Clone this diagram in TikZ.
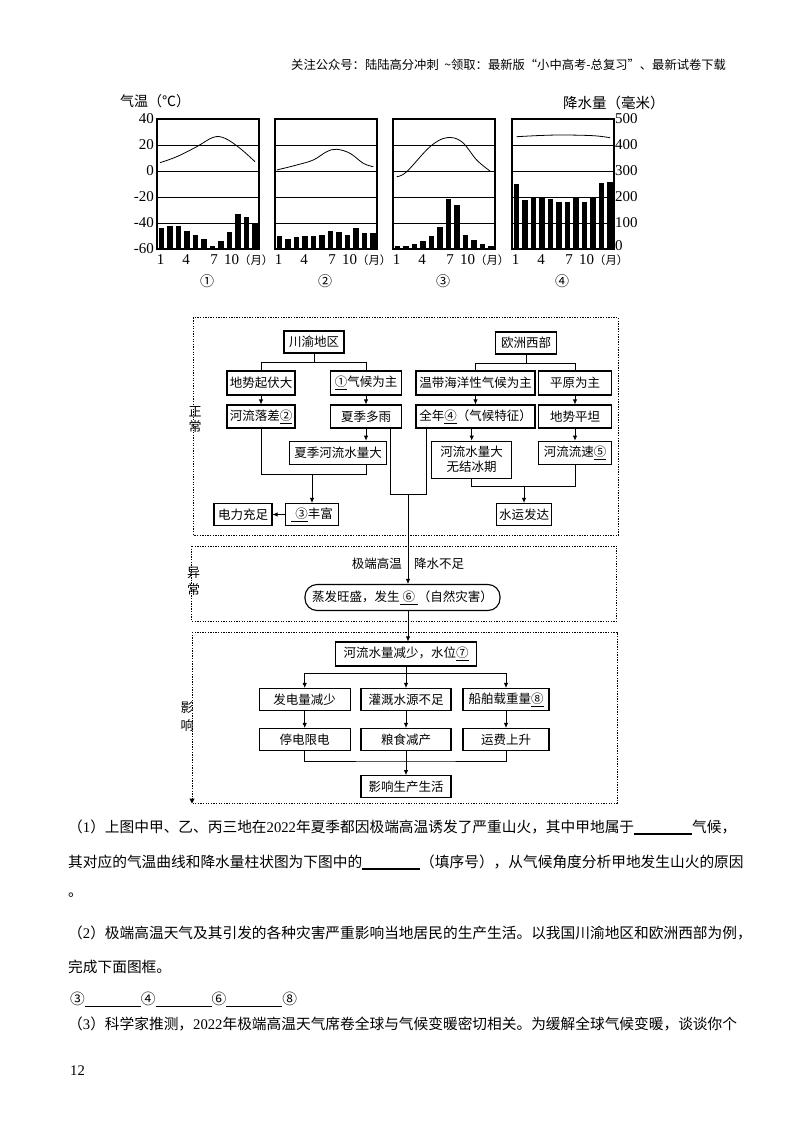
\documentclass[tikz,border=0pt]{standalone}
\usepackage{fontspec}
\setmainfont{Liberation Serif}
\newfontfamily\cjk{Noto Sans CJK SC}
\usetikzlibrary{arrows.meta,calc}
\begin{document}
\begin{tikzpicture}[x=1pt,y=-1pt,
  fbox/.style={draw,line width=1.1pt,inner sep=0pt,align=center,font=\cjk\fontsize{12.5}{15}\selectfont},
  conn/.style={line width=0.8pt},
  arr/.style={line width=0.8pt,-{Latex[length=5pt,width=4.5pt]}},
  dotbox/.style={line width=1pt,dash pattern=on 1.3pt off 1.3pt},
  gridl/.style={line width=0.9pt},
  curve/.style={line width=0.8pt},
  numl/.style={font=\fontsize{15}{17}\selectfont,inner sep=0pt},
  txt/.style={anchor=west,inner sep=0pt,font=\cjk\fontsize{14.7}{17}\selectfont},
  side/.style={align=center,inner sep=0pt,font=\cjk\fontsize{13}{15}\selectfont}]
\useasboundingbox (0,0) rectangle (800,1132);

% header
\node[anchor=west,inner sep=0pt,font=\cjk\fontsize{12.3}{14}\selectfont] (hdr) at (291,65)
  {关注公众号：陆陆高分冲刺\ \ \string~领取：最新版“小中高考-总复习”、最新试卷下载};

% ---------- climate charts ----------
\foreach \L/\bars/\cn in {
  157/{228.3,226,226,231,235,238.7,246,241.3,232,214,216.7,222.7}/①,
  275/{236,238.7,237.3,236,236,235,230.7,232,234.7,228.3,233.3,233.3}/②,
  393/{246,246,244,241.3,236,227.3,199,205.3,234.7,240,244,246}/③,
  512/{184.3,200.3,198.3,198.3,199,201.7,201.7,198.3,201.7,198.3,183.3,182}/④}{
  \foreach \g in {145,171,197,223} \draw[gridl] (\L,\g) -- (\L+102,\g);
  \foreach \t [count=\i] in \bars
    \fill (\L+8.5*\i-4.25-2.75,\t) rectangle (\L+8.5*\i-4.25+2.75,249);
  \draw[line width=1.1pt] (\L,119) rectangle (\L+102,249);
  \node[numl] at (\L+3.5,260) {1};
  \node[numl] at (\L+29,260) {4};
  \node[numl] at (\L+57,260) {7};
  \node[numl,anchor=west] at (\L+67,260) {10{\cjk\fontsize{11.3}{13}\selectfont（月）}};
  \node[font=\cjk\fontsize{14}{16}\selectfont,inner sep=0pt] at (\L+50,281) {\cn};
}
% temperature curves
\draw[curve] plot[smooth,tension=0.6] coordinates {(160,162.7) (176.7,156.7) (196.7,146.7) (213.3,137.3) (225,138.3) (240,148.3) (255,161.7)};
\draw[curve] plot[smooth,tension=0.6] coordinates {(276.7,170) (296.7,165) (313.3,160) (326.7,151.7) (336.7,149.3) (350,153.3) (363.3,163.3) (373.3,166.7)};
\draw[curve] plot[smooth,tension=0.6] coordinates {(396.7,176.7) (406.7,171.7) (430,146.7) (446.7,137.7) (461.7,141.7) (476.7,160) (490,171)};
\draw[curve] plot[smooth,tension=0.6] coordinates {(516.7,136.7) (540,135.5) (563.3,135) (593.3,135.7) (610,137.7)};
% axes labels
\foreach \v [count=\k from 0] in {40,20,0,-20,-40,-60}
  \node[numl,anchor=east] at (154,119+26*\k) {\v};
\foreach \v [count=\k from 0] in {500,400,300,200,100}
  \node[numl,anchor=west] at (615,119+26*\k) {\v};
\node[numl,anchor=west] (p0) at (615,246) {0};
\node[anchor=west,inner sep=0pt,font=\cjk\fontsize{14}{16}\selectfont] (tl) at (120,101) {气温（℃）};
\node[anchor=west,inner sep=0pt,font=\cjk\fontsize{14.5}{16}\selectfont] (pl) at (563,103) {降水量（毫米）};

% ---------- dotted frames ----------
\draw[dotbox] (193.3,317.7) rectangle (618.3,535);
\draw[dotbox] (191.7,546) rectangle (616.7,621);
\draw[dotbox] (192,632) -- (617,632) -- (617,803) -- (192,803);
\draw[dotbox,-{Triangle[length=5pt,width=5pt]}] (192,632) -- (192,803.5);
\node[side] (s1) at (195,419.5) {正\\常};
\node[side,font=\cjk\fontsize{13}{17}\selectfont] (s2) at (193.5,581.5) {异\\常};
\node[side,font=\cjk\fontsize{13}{18}\selectfont] (s3) at (187,717) {影\\响};

% ---------- normal: Sichuan-Chongqing ----------
\node[fbox,minimum width=60,minimum height=22] (cy) at (314,342) {川渝地区};
\node[fbox,minimum width=68,minimum height=24] (a1) at (261,383) {地势起伏大};
\node[fbox,minimum width=71,minimum height=24] (a2) at (366,383) {\underline{①}气候为主};
\node[fbox,minimum width=68,minimum height=23] (a3) at (261,416.5) {河流落差\underline{②}};
\node[fbox,minimum width=71,minimum height=23] (a4) at (366,416.5) {夏季多雨};
\node[fbox,minimum width=97,minimum height=23] (a5) at (338,452.7) {夏季河流水量大};
\node[fbox,minimum width=53,minimum height=22] (a6) at (312,514.5) {\underline{\hspace{4pt}③}丰富};
\node[fbox,minimum width=58,minimum height=22] (a7) at (243,514.5) {电力充足};

\coordinate (j1) at (314,362.7);
\draw[conn] (cy.south) -- (j1);
\draw[conn] (a1.north) -- ++(0,-8.3) -| (a2.north);
\draw[arr] (a1) -- (a3);
\draw[arr] (a2) -- (a4);
\draw[arr] (a4.south) -- (a4.south |- a5.north);
\coordinate (j2) at (312,474.3);
\draw[conn] (a3.south) |- (j2);
\draw[conn] (a4.south |- a5.south) |- (j2);
\draw[arr] (j2) -- (a6.north);
\draw[arr] (a6.west) -- (a7.east);

% ---------- normal: western Europe ----------
\node[fbox,minimum width=61,minimum height=22] (oz) at (526,343) {欧洲西部};
\node[fbox,minimum width=119,minimum height=24] (b1) at (475.5,383) {温带海洋性气候为主};
\node[fbox,minimum width=73,minimum height=24] (b2) at (575,383) {平原为主};
\node[fbox,minimum width=119,minimum height=23] (b3) at (475.5,416.5) {全年\underline{④}（气候特征）};
\node[fbox,minimum width=73,minimum height=23] (b4) at (575,416.5) {地势平坦};
\node[fbox,minimum width=80,minimum height=37] (b5) at (471.7,459.7) {河流水量大\\无结冰期};
\node[fbox,minimum width=73,minimum height=23] (b6) at (575,452.7) {河流流速\underline{⑤}};
\node[fbox,minimum width=55,minimum height=22] (b7) at (524,514.5) {水运发达};

\coordinate (j3) at (526,364.3);
\draw[conn] (oz.south) -- (j3);
\draw[conn] (b1.north) -- ++(0,-6.7) -| (b2.north);
\draw[arr] (b1) -- (b3);
\draw[arr] (b3.south -| b5.north) -- (b5.north);
\draw[arr] (b2) -- (b4);
\draw[arr] (b4) -- (b6);
\coordinate (j4) at (524,486.7);
\draw[conn] (b5.south) |- (j4);
\draw[conn] (b6.south) |- (j4);
\draw[arr] (j4) -- (b7.north);

% ---------- merge to abnormal ----------
\coordinate (m) at (408,494.3);
\draw[conn] ($(a4.south)+(24,0)$) |- (m);
\draw[conn] ($(b3.south)+(-49,0)$) |- (m);
\node[fbox,rounded corners=12pt,minimum width=195,minimum height=26] (r) at (402.5,597.5)
  {蒸发旺盛，发生\underline{\ ⑥\ }（自然灾害）};
\draw[arr] (m) -- (m |- r.north);
\node[anchor=east,inner sep=0pt,font=\cjk\fontsize{12.5}{15}\selectfont] (hot) at (402,564) {极端高温};
\node[anchor=west,inner sep=0pt,font=\cjk\fontsize{12.5}{15}\selectfont] (dry) at (414,564) {降水不足};

% ---------- impacts ----------
\node[fbox,minimum width=141,minimum height=24] (c0) at (406,654) {河流水量减少，水位\underline{⑦}};
\draw[arr] (m |- r.south) -- (m |- c0.north);
\node[fbox,minimum width=91,minimum height=22] (c1) at (304.7,699.5) {发电量减少};
\node[fbox,minimum width=90,minimum height=22] (c2) at (406,699.5) {灌溉水源不足};
\node[fbox,minimum width=86,minimum height=22] (c3) at (506,699.5) {船舶载重量\underline{⑧}};
\node[fbox,minimum width=91,minimum height=22] (d1) at (304.7,739.5) {停电限电};
\node[fbox,minimum width=90,minimum height=22] (d2) at (406,739.5) {粮食减产};
\node[fbox,minimum width=86,minimum height=22] (d3) at (506,739.5) {运费上升};
\node[fbox,minimum width=90,minimum height=22] (e) at (406,786.7) {影响生产生活};

\coordinate (h1) at (406,673.3);
\draw[arr] (c0.south) -- (c2.north);
\draw[arr] (h1) -| (c1.north);
\draw[arr] (h1) -| (c3.north);
\draw[arr] (c1) -- (d1);
\draw[arr] (c2) -- (d2);
\draw[arr] (c3) -- (d3);
\coordinate (h2) at (406,761);
\draw[conn] (d1.south) |- (h2) -| (d3.south);
\draw[arr] (d2.south) -- (e.north);

% ---------- questions ----------
\node[txt] (q1) at (68,827) {（{\normalfont 1}）上图中甲、乙、丙三地在{\normalfont 2022}年夏季都因极端高温诱发了严重山火，其中甲地属于\rule[-2.5pt]{58pt}{1.3pt}气候，};
\node[txt] (q1b) at (68,862) {其对应的气温曲线和降水量柱状图为下图中的\rule[-2.5pt]{58pt}{1.3pt}（填序号），从气候角度分析甲地发生山火的原因};
\node[txt] (q1c) at (68,895) {。};
\node[txt] (q2) at (68,933) {（{\normalfont 2}）极端高温天气及其引发的各种灾害严重影响当地居民的生产生活。以我国川渝地区和欧洲西部为例，};
\node[txt] (q2b) at (68,967) {完成下面图框。};
\node[txt] (q2c) at (70,1000) {③\rule[-2.5pt]{56pt}{1.3pt}④\rule[-2.5pt]{56pt}{1.3pt}⑥\rule[-2.5pt]{56pt}{1.3pt}⑧};
\node[txt] (q3) at (68,1024) {（{\normalfont 3}）科学家推测，{\normalfont 2022}年极端高温天气席卷全球与气候变暖密切相关。为缓解全球气候变暖，谈谈你个};
\node[anchor=west,inner sep=0pt,font=\fontsize{14.7}{17}\selectfont] (pg) at (70,1071) {12};
\end{tikzpicture}
\end{document}
